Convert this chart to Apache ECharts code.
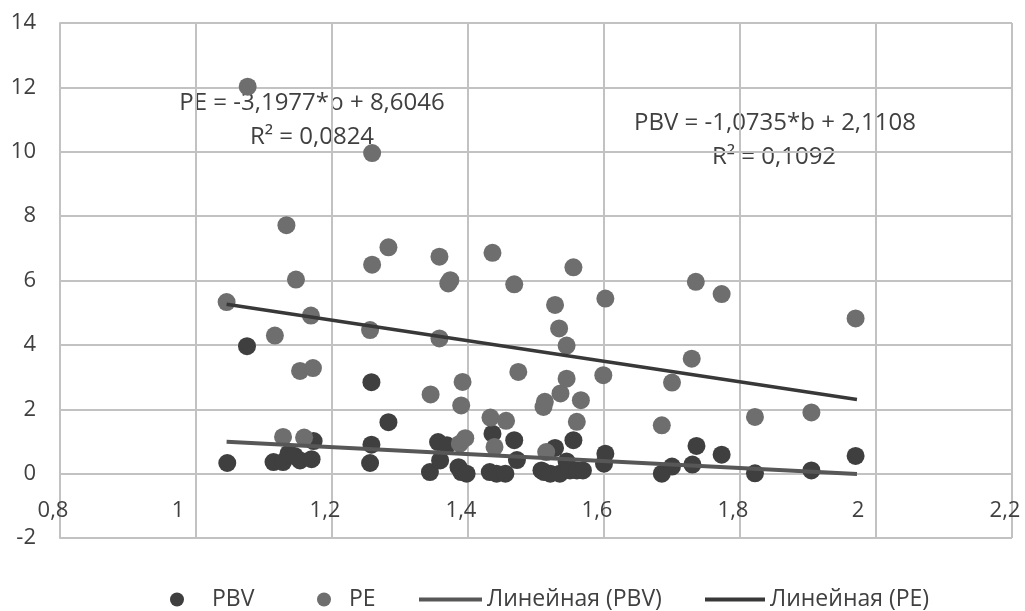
<!DOCTYPE html>
<html>
<head>
<meta charset="utf-8">
<script src="https://cdn.jsdelivr.net/npm/echarts@6/dist/echarts.min.js"></script>
<style>
  html, body { margin: 0; padding: 0; background: #fff; }
  #chart { width: 1025px; height: 611px; }
</style>
</head>
<body>
<div id="chart"></div>
<script>
// b (x), PBV (y)
const pbvPoints = [
  [1.046, 0.33], [1.075, 3.96], [1.114, 0.36], [1.128, 0.36], [1.136, 0.62], [1.145, 0.55],
  [1.153, 0.41], [1.170, 0.45], [1.173, 1.01], [1.256, 0.33], [1.258, 2.84], [1.258, 0.90],
  [1.283, 1.60], [1.344, 0.05], [1.356, 0.98], [1.359, 0.41], [1.369, 0.88], [1.386, 0.20],
  [1.390, 0.05], [1.398, 0.00], [1.432, 0.05], [1.436, 1.24], [1.442, 0.00], [1.455, 0.00],
  [1.468, 1.04], [1.472, 0.42], [1.508, 0.10], [1.512, 0.05], [1.521, 0.00], [1.528, 0.80],
  [1.535, 0.00], [1.545, 0.38], [1.550, 0.10], [1.555, 1.04], [1.560, 0.10], [1.569, 0.10],
  [1.600, 0.31], [1.602, 0.62], [1.685, 0.00], [1.700, 0.22], [1.730, 0.28], [1.736, 0.86],
  [1.773, 0.59], [1.822, 0.01], [1.905, 0.10], [1.970, 0.55]
];

// b (x), PE (y)
const pePoints = [
  [1.045, 5.33], [1.076, 12.02], [1.116, 4.29], [1.128, 1.14], [1.133, 7.72], [1.147, 6.03],
  [1.153, 3.19], [1.159, 1.12], [1.169, 4.91], [1.172, 3.28], [1.256, 4.46], [1.259, 9.96],
  [1.259, 6.49], [1.283, 7.03], [1.345, 2.46], [1.358, 6.74], [1.358, 4.20], [1.371, 5.91],
  [1.374, 6.01], [1.388, 0.93], [1.390, 2.12], [1.392, 2.85], [1.396, 1.10], [1.433, 1.74],
  [1.436, 6.86], [1.439, 0.83], [1.456, 1.64], [1.468, 5.88], [1.474, 3.16], [1.511, 2.07],
  [1.513, 2.23], [1.515, 0.67], [1.528, 5.24], [1.534, 4.51], [1.536, 2.49], [1.545, 3.98],
  [1.545, 2.95], [1.555, 6.41], [1.560, 1.61], [1.566, 2.28], [1.599, 3.06], [1.602, 5.44],
  [1.685, 1.50], [1.700, 2.83], [1.729, 3.57], [1.735, 5.96], [1.773, 5.58], [1.822, 1.76],
  [1.905, 1.90], [1.970, 4.82]
];

// linear trend lines, start and end
const pbvTrend = [[1.045, 0.99], [1.972, -0.01]];
const peTrend = [[1.045, 5.26], [1.972, 2.30]];

const seriesNames = ["PBV", "PE", "Линейная (PBV)", "Линейная (PE)"];
const peEquation = ["PE = -3,1977*b + 8,6046", "R² = 0,0824"];
const pbvEquation = ["PBV = -1,0735*b + 2,1108", "R² = 0,1092"];

const font = '"Open Sans", sans-serif';
const textColor = "#404040";
const gridColor = "#c2c2c2";
const lineIcon = "path://M0,0 L60,0 L60,4 L0,4 Z";

const myChart = echarts.init(document.getElementById("chart"));

const eqText = (x, y, text) => ({
  type: "text",
  x: x,
  y: y,
  style: { text: text, fill: textColor, font: "24px " + font, align: "center", verticalAlign: "middle" }
});

// one legend per item so each can sit where it does in the original
const legendItem = (name, icon, left, width, textPad) => ({
  top: 583,
  left: left,
  itemWidth: width,
  itemHeight: 14,
  icon: icon,
  data: [name],
  formatter: n => "{t|" + n + "}",
  textStyle: {
    rich: { t: { fontSize: 23, color: textColor, fontFamily: font, padding: [0, 0, 0, textPad] } }
  }
});

const option = {
  animation: false,
  textStyle: { fontFamily: font },
  grid: { left: 60, right: 13, top: 23, bottom: 73 },
  legend: [
    legendItem(seriesNames[0], "circle", 165, 14, 23),
    legendItem(seriesNames[1], "circle", 312, 14, 13),
    legendItem(seriesNames[2], lineIcon, 414, 63, 0),
    legendItem(seriesNames[3], lineIcon, 700, 60, 0)
  ],
  xAxis: {
    type: "value",
    min: 0.8,
    max: 2.2,
    interval: 0.2,
    axisLine: { show: true, lineStyle: { color: gridColor, width: 2 } },
    axisTick: { show: false },
    splitLine: { show: true, lineStyle: { color: gridColor, width: 2 } },
    axisLabel: {
      inside: true,
      margin: 16,
      fontSize: 22,
      color: textColor,
      padding: [0, 14, 0, 0],
      formatter: v => {
        const s = String(Math.round(v * 10) / 10).replace(".", ",");
        return s.indexOf(",") < 0 ? "{i|" + s + "}" : s;
      },
      rich: {
        i: { fontSize: 22, color: textColor, fontFamily: font, padding: [0, 22, 0, 0] }
      }
    }
  },
  yAxis: {
    type: "value",
    min: -2,
    max: 14,
    interval: 2,
    axisLine: { show: true, onZero: false, lineStyle: { color: gridColor, width: 2 } },
    axisTick: { show: false },
    splitLine: { show: true, lineStyle: { color: gridColor, width: 2 } },
    axisLabel: { margin: 24, fontSize: 22, color: textColor }
  },
  graphic: [
    eqText(312, 103, peEquation[0]),
    eqText(312, 137, peEquation[1]),
    eqText(775, 123, pbvEquation[0]),
    eqText(774, 157, pbvEquation[1])
  ],
  series: [
    {
      name: seriesNames[0],
      type: "scatter",
      symbolSize: 18,
      itemStyle: { color: "#3f3f3f", opacity: 1 },
      data: pbvPoints
    },
    {
      name: seriesNames[1],
      type: "scatter",
      symbolSize: 18,
      itemStyle: { color: "#6e6e6e", opacity: 1 },
      data: pePoints
    },
    {
      name: seriesNames[2],
      type: "line",
      symbol: "none",
      lineStyle: { color: "#575757", width: 4 },
      itemStyle: { color: "#575757" },
      data: pbvTrend
    },
    {
      name: seriesNames[3],
      type: "line",
      symbol: "none",
      lineStyle: { color: "#383838", width: 3.5 },
      itemStyle: { color: "#383838" },
      data: peTrend
    }
  ]
};

myChart.setOption(option);
</script>
</body>
</html>
